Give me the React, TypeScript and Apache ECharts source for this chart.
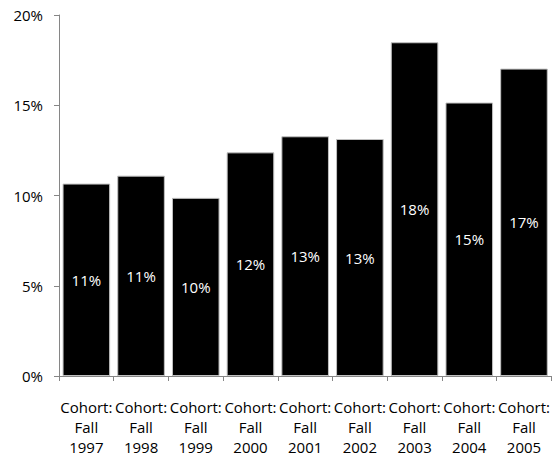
import React, { useEffect, useRef } from "react";
import * as echarts from "echarts";

const categories = [
  "Cohort:\nFall\n1997",
  "Cohort:\nFall\n1998",
  "Cohort:\nFall\n1999",
  "Cohort:\nFall\n2000",
  "Cohort:\nFall\n2001",
  "Cohort:\nFall\n2002",
  "Cohort:\nFall\n2003",
  "Cohort:\nFall\n2004",
  "Cohort:\nFall\n2005",
];
const values = [10.66, 11.1, 9.87, 12.39, 13.28, 13.13, 18.49, 15.15, 17.03];
const yMin = 0;
const yMax = 20;
const yInterval = 5;

const FONT = "'Open Sans', 'Noto Sans', sans-serif";

export default function App() {
  const ref = useRef<HTMLDivElement>(null);
  useEffect(() => {
    if (!ref.current) return;
    const chart = echarts.init(ref.current, undefined, { renderer: "svg" });
    chart.setOption({
      animation: false,
      backgroundColor: "#fff",
      grid: { left: 59, right: 1, top: 15, bottom: 80, containLabel: false },
      xAxis: {
        type: "category",
        data: categories,
        axisLine: { lineStyle: { color: "#868686", width: 1 } },
        axisTick: { show: true, length: 5, lineStyle: { color: "#868686" } },
        axisLabel: {
          color: "#000",
          fontFamily: FONT,
          fontSize: 15,
          lineHeight: 20,
          margin: 21,
          interval: 0,
          align: "center",
        },
      },
      yAxis: {
        type: "value",
        min: yMin,
        max: yMax,
        interval: yInterval,
        axisLine: { show: true, lineStyle: { color: "#868686", width: 1 } },
        axisTick: { show: true, length: 5, lineStyle: { color: "#868686" } },
        splitLine: { show: false },
        axisLabel: {
          color: "#000",
          fontFamily: FONT,
          fontSize: 15,
          margin: 16,
          formatter: "{value}%",
        },
      },
      series: [
        {
          type: "bar",
          data: values,
          barCategoryGap: "13%",
          itemStyle: { color: "#000", borderColor: "#c0c0c0", borderWidth: 1 },
          label: {
            show: true,
            position: "inside",
            color: "#fff",
            fontFamily: FONT,
            fontSize: 15,
            formatter: (p: any) => Math.round(p.value) + "%",
          },
        },
      ],
    });
    return () => chart.dispose();
  }, []);
  return <div ref={ref} style={{ width: 553, height: 457, position: "absolute", left: 0, top: 0 }} />;
}
